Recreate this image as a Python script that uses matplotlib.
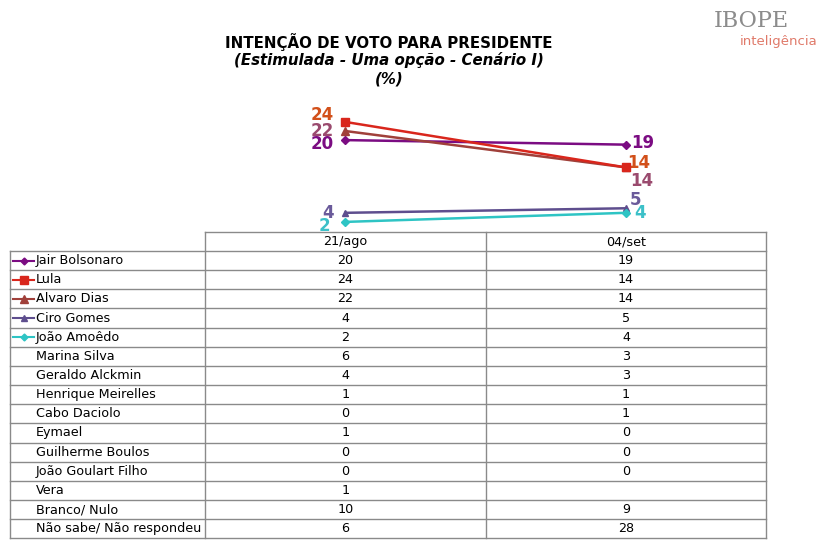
import matplotlib.pyplot as plt

# ---- data ----
dates = ['21/ago', '04/set']
candidates = ['Jair Bolsonaro', 'Lula', 'Alvaro Dias', 'Ciro Gomes', 'João Amoêdo',
              'Marina Silva', 'Geraldo Alckmin', 'Henrique Meirelles', 'Cabo Daciolo',
              'Eymael', 'Guilherme Boulos', 'João Goulart Filho', 'Vera',
              'Branco/ Nulo', 'Não sabe/ Não respondeu']
ago21 = [20, 24, 22, 4, 2, 6, 4, 1, 0, 1, 0, 0, 1, 10, 6]
set04 = [19, 14, 14, 5, 4, 3, 3, 1, 1, 0, 0, 0, None, 9, 28]

# only the first five are drawn as lines
line_colors = ['#7B0C82', '#D9261C', '#A0403A', '#5E4E8E', '#2EC4C4']
label_colors = ['#7B0C82', '#D2501A', '#9A4A6E', '#6A5A9A', '#3CC0C8']
markers = ['D', 's', '^', '^', 'D']
msizes = [4, 6, 6, 5, 4]

W, H = 830, 543
fig = plt.figure(figsize=(W / 100, H / 100), dpi=100)
fig.patch.set_facecolor('white')

# ---- table (pixel coordinates) ----
axt = fig.add_axes([0, 0, 1, 1])
axt.set_xlim(0, W)
axt.set_ylim(H, 0)
axt.axis('off')

x_left, x_c1, x_c2, x_right = 10, 205, 486, 766
y_head = 232
row_h = 19.15
y_first = 251
n = len(candidates)
y_bottom = y_first + n * row_h
grid = '#8a8a8a'

# header box
axt.plot([x_c1, x_right], [y_head, y_head], color=grid, lw=1)
for x in (x_c1, x_c2, x_right):
    axt.plot([x, x], [y_head, y_bottom], color=grid, lw=1)
axt.plot([x_left, x_left], [y_first, y_bottom], color=grid, lw=1)
for i in range(n + 1):
    y = y_first + i * row_h
    axt.plot([x_left, x_right], [y, y], color=grid, lw=1)

fs = 9.2
axt.text((x_c1 + x_c2) / 2, y_head + row_h / 2, dates[0], ha='center', va='center', fontsize=fs)
axt.text((x_c2 + x_right) / 2, y_head + row_h / 2, dates[1], ha='center', va='center', fontsize=fs)

for i, name in enumerate(candidates):
    yc = y_first + (i + 0.5) * row_h
    axt.text(36, yc, name, ha='left', va='center', fontsize=fs)
    axt.text((x_c1 + x_c2) / 2, yc, str(ago21[i]), ha='center', va='center', fontsize=fs)
    if set04[i] is not None:
        axt.text((x_c2 + x_right) / 2, yc, str(set04[i]), ha='center', va='center', fontsize=fs)
    if i < len(line_colors):
        axt.plot([13, 34], [yc, yc], color=line_colors[i], lw=1.5)
        axt.plot([23.5], [yc], marker=markers[i], color=line_colors[i], ms=msizes[i] - 0.5)

# ---- title ----
axt.text(389, 42, 'INTENÇÃO DE VOTO PARA PRESIDENTE', ha='center', va='center',
         fontsize=10.8, fontweight='bold')
axt.text(389, 60, '(Estimulada - Uma opção - Cenário I)', ha='center', va='center',
         fontsize=10.8, fontweight='bold', style='italic')
axt.text(389, 79, '(%)', ha='center', va='center',
         fontsize=10.8, fontweight='bold', style='italic')

# ---- logo ----
axt.text(751, 21, 'IBOPE', ha='center', va='center', fontsize=16,
         family='DejaVu Serif', color='#8c8c8c')
axt.text(779, 41, 'inteligência', ha='center', va='center', fontsize=9.5,
         color='#E07A6A')

# ---- line chart ----
px_per_unit = 4.545
y0_px = 231
top_px = 100
axl = fig.add_axes([x_c1 / W, 1 - y0_px / H, (x_right - x_c1) / W, (y0_px - top_px) / H])
axl.set_xlim(-0.5, 1.5)
axl.set_ylim(0, (y0_px - top_px) / px_per_unit)
axl.axis('off')
axl.patch.set_alpha(0)

for i in range(5):
    axl.plot([0, 1], [ago21[i], set04[i]], color=line_colors[i], lw=1.8,
             marker=markers[i], ms=msizes[i], zorder=4 if i == 1 else 3)

# value labels (offsets in points)
left_off = [(-8, -3), (-8, 5), (-8, 0), (-8, 0), (-11, -3)]
right_off = [(4, 1), (1, 3), (3, -10), (3, 6), (6, 0)]
for i in range(5):
    dx, dy = left_off[i]
    axl.annotate(str(ago21[i]), (0, ago21[i]), xytext=(dx, dy), textcoords='offset points',
                 ha='right', va='center', fontsize=12, fontweight='bold', color=label_colors[i])
    dx, dy = right_off[i]
    axl.annotate(str(set04[i]), (1, set04[i]), xytext=(dx, dy), textcoords='offset points',
                 ha='left', va='center', fontsize=12, fontweight='bold', color=label_colors[i])

fig.savefig('out.png', dpi=100, facecolor='white')
